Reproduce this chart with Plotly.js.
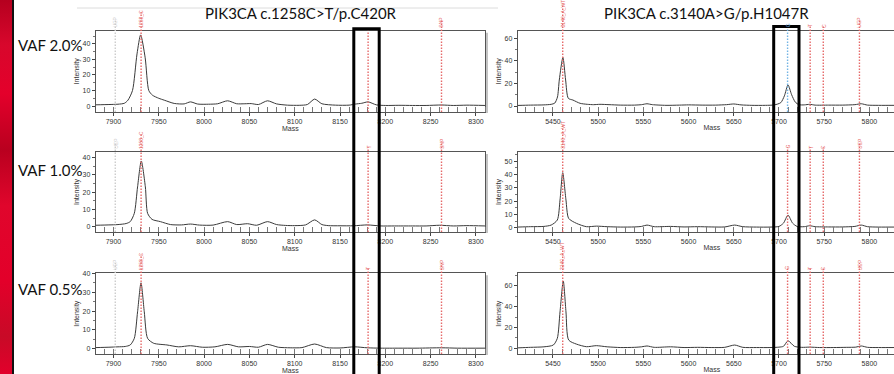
<!DOCTYPE html>
<html><head><meta charset="utf-8">
<script src="https://cdn.plot.ly/plotly-3.0.1.min.js"></script>
<style>
html,body{margin:0;padding:0;width:894px;height:374px;overflow:hidden;background:#fff;}
#chart{position:absolute;left:0;top:0;width:910px;height:374px;}
#strip{position:absolute;left:0;top:0;width:12px;height:374px;z-index:5;
background:linear-gradient(to bottom,#b5001f 0%,#d8072c 12%,#e4002b 25%,#b9001f 40%,#e0062c 55%,#e3002a 75%,#c80a27 90%,#e2002b 100%);}
#edge{position:absolute;left:12px;top:0;width:2px;height:374px;background:#111;z-index:5;}
</style></head><body>
<div id="chart"></div><div id="strip"></div><div id="edge"></div>
<script>
// ---------------- data ----------------
const titleLeft = "PIK3CA c.1258C>T/p.C420R";
const titleRight = "PIK3CA c.3140A>G/p.H1047R";
const vafLabels = ["VAF 2.0%", "VAF 1.0%", "VAF 0.5%"];

const xTicksL = [7900, 7950, 8000, 8050, 8100, 8150, 8200, 8250, 8300];
const xTicksR = [5450, 5500, 5550, 5600, 5650, 5700, 5750, 5800];
const yTicks1L = [0, 10, 20, 30, 40];
const yTicks1R = [0, 20, 40, 60];
const yTicks2L = [0, 10, 20, 30, 40];
const yTicks2R = [0, 10, 20, 30, 40, 50];
const yTicks3L = [0, 10, 20, 30, 40];
const yTicks3R = [0, 20, 40, 60];

const mass1L = [7880, 7895, 7905, 7912, 7916, 7921, 7926, 7930, 7935, 7939, 7943, 7950, 7956, 7967, 7978, 7985, 7993, 8005, 8015, 8026, 8036, 8045, 8052, 8060, 8070, 8080, 8092, 8105, 8114, 8122, 8130, 8145, 8160, 8167, 8174, 8181, 8190, 8200, 8215, 8230, 8245, 8262, 8275, 8290, 8310];
const int1L  = [0.8, 1.0, 1.2, 1.8, 3.8, 10, 33.5, 45.7, 31, 10, 7, 5, 3.8, 1.7, 1.4, 2.7, 1.3, 1.2, 1.5, 3.4, 1.5, 1.5, 1.6, 1.0, 3.4, 1.4, 0.6, 0.5, 1.0, 4.5, 1.5, 0.6, 0.6, 1.3, 1.8, 2.7, 0.8, 0.4, 0.5, 0.4, 0.4, 0.7, 0.4, 0.6, 0.4];

const mass1R = [5411, 5425, 5440, 5448, 5452, 5455, 5457, 5461, 5464, 5467, 5472, 5480, 5488, 5495, 5502, 5512, 5525, 5540, 5548, 5554, 5560, 5575, 5590, 5600, 5615, 5630, 5642, 5650, 5658, 5670, 5685, 5695, 5702, 5706, 5710, 5714, 5718, 5722, 5728, 5734, 5740, 5755, 5770, 5784, 5791, 5798, 5810, 5825, 5841];
const int1R  = [0.5, 0.8, 1.0, 1.5, 2.6, 8, 23, 43, 23, 6.8, 5.3, 2.4, 1.5, 1.2, 1.5, 1.2, 0.8, 0.8, 1.2, 2.0, 1.2, 0.6, 0.8, 1.0, 0.8, 0.8, 1.2, 1.8, 1.0, 0.6, 0.6, 1.0, 3.0, 9, 18.6, 10, 3.5, 1.2, 1.0, 1.5, 0.8, 0.8, 0.8, 1.2, 2.0, 0.8, 0.6, 0.6, 0.5];

const mass2L = [7880, 7895, 7905, 7914, 7918.5, 7923, 7926.6, 7930.7, 7935.2, 7937.7, 7942.6, 7951.8, 7963, 7975, 7985, 7995, 8010, 8026, 8036, 8048, 8058, 8070, 8080, 8090, 8100, 8112, 8122, 8130, 8137, 8150, 8165, 8180, 8195, 8210, 8230, 8245, 8260, 8275, 8290, 8310];
const int2L  = [0.8, 1.0, 1.2, 1.8, 2.9, 7.7, 23, 38, 23, 7.7, 4.2, 2.9, 1.2, 1.0, 1.5, 0.9, 0.9, 2.9, 1.2, 1.7, 0.8, 2.9, 1.2, 0.7, 0.6, 1.0, 3.9, 1.2, 0.6, 0.5, 0.5, 1.0, 0.4, 0.4, 0.4, 0.4, 0.8, 0.4, 0.6, 0.4];

const mass2R = [5411, 5425, 5440, 5448, 5454.8, 5457.8, 5460.8, 5464.4, 5467.4, 5476, 5487, 5498, 5510, 5525, 5540, 5548, 5554, 5562, 5580, 5595, 5610, 5625, 5640, 5651, 5660, 5675, 5690, 5700, 5705, 5710, 5715, 5720, 5728, 5734, 5740, 5755, 5770, 5784, 5791, 5798, 5810, 5825, 5841];
const int2R  = [0.5, 0.8, 1.0, 2.0, 5.8, 20.8, 41.4, 20.8, 7, 3.3, 0.8, 1.2, 0.8, 0.5, 0.6, 1.0, 2.0, 0.8, 1.0, 0.6, 0.8, 0.6, 0.6, 2.0, 0.8, 0.5, 0.5, 1.0, 3.5, 9.5, 3.5, 1.0, 0.8, 1.5, 0.8, 0.6, 0.6, 1.0, 2.0, 0.8, 0.5, 0.5, 0.5];

const mass3L = [7880, 7895, 7905, 7913, 7918.5, 7923, 7926.6, 7930.4, 7934, 7937.7, 7944.4, 7959, 7972, 7985, 7998, 8012, 8026, 8038, 8050, 8060, 8070, 8082, 8095, 8108, 8122, 8135, 8150, 8166, 8180, 8195, 8215, 8235, 8262, 8280, 8310];
const int3L  = [0.6, 0.8, 1.0, 1.2, 2, 5.5, 19.6, 35, 19.6, 5.5, 2.9, 2.0, 1.0, 1.6, 0.8, 1.0, 2.3, 1.0, 1.2, 0.8, 2.3, 0.8, 0.5, 0.6, 2.5, 0.6, 0.4, 1.0, 0.5, 0.3, 0.3, 0.3, 0.5, 0.3, 0.3];

const mass3R = [5411, 5425, 5440, 5450.4, 5454.8, 5457.8, 5461.4, 5464.4, 5467.4, 5476, 5487, 5498, 5510, 5525, 5540, 5548, 5554, 5562, 5580, 5595, 5610, 5625, 5640, 5651, 5660, 5675, 5690, 5700, 5705, 5710, 5717, 5725, 5734, 5745, 5760, 5775, 5785, 5791, 5798, 5810, 5825, 5841];
const int3R  = [0.5, 1.0, 1.5, 3.2, 9.6, 35, 64.7, 35, 8, 4.1, 1.6, 2.6, 1.5, 0.8, 1.0, 1.5, 2.3, 1.0, 1.5, 0.8, 1.0, 0.8, 1.0, 3.2, 1.0, 0.8, 0.8, 1.2, 2, 7.3, 2, 1.0, 1.2, 0.8, 0.8, 1.0, 1.2, 2.3, 1.0, 0.8, 0.8, 0.8];

// expected analyte masses (dotted markers) and their tiny labels
const markerMassL = [7902, 7930.5, 8181, 8262];
const markerTextL = ["UEP", "1258_C", "T", "SNP"];
const markerMassR = [5460.8, 5709.5, 5734.5, 5749, 5789];
const markerTextR = ["3140_A_WT", "G", "T", "C", "UEP"];

// ---------------- layout helpers ----------------
const W = 910, H = 374;
const fx = px => px / W;
const fy = py => 1 - py / H;

const panels = [
  {box:[95.7, 485, 30.7, 112], xr:[7880.4, 8310], yr:[-3.8, 48.4], xt:xTicksL, yt:yTicks1L, ym:5, m:mass1L, v:int1L, side:'L', row:0},
  {box:[517.7, 906, 30.7, 112], xr:[5411, 5840.5], yr:[-5.3, 66.7], xt:xTicksR, yt:yTicks1R, ym:10, m:mass1R, v:int1R, side:'R', row:0},
  {box:[95.7, 485, 152, 232], xr:[7880.4, 8310], yr:[-3.1, 43.2], xt:xTicksL, yt:yTicks2L, ym:5, m:mass2L, v:int2L, side:'L', row:1},
  {box:[517.7, 906, 152, 232], xr:[5411, 5840.5], yr:[-3.2, 56.9], xt:xTicksR, yt:yTicks2R, ym:5, m:mass2R, v:int2R, side:'R', row:1},
  {box:[95.7, 485, 273.3, 354], xr:[7880.4, 8310], yr:[-2.8, 40.05], xt:xTicksL, yt:yTicks3L, ym:5, m:mass3L, v:int3L, side:'L', row:2},
  {box:[517.7, 906, 273.3, 354], xr:[5411, 5840.5], yr:[-5.4, 72.1], xt:xTicksR, yt:yTicks3R, ym:10, m:mass3R, v:int3R, side:'R', row:2}
];

const tickFont = {family:'Liberation Sans, Arial, sans-serif', size:7, color:'#333'};
const RED = '#e66a6a', GRAY = '#cccccc', BLUE = '#72b4e4';

const layout = {
  width: W, height: H, margin:{l:0, r:0, t:0, b:0},
  paper_bgcolor:'#fff', plot_bgcolor:'#fff', showlegend:false,
  shapes: [], annotations: []
};
const traces = [];

panels.forEach((p, i) => {
  const s = i === 0 ? '' : String(i + 1);
  const [x0, x1, y0, y1] = p.box;
  layout['xaxis' + s] = {
    domain:[fx(x0), fx(x1)], range:p.xr, anchor:'y' + s,
    tickmode:'array', tickvals:p.xt, ticks:'outside', ticklen:3, tickcolor:'#444',
    minor:{tick0:0, dtick:10, ticks:'inside', ticklen:5, tickcolor:'#777', showgrid:false},
    tickfont:tickFont, showline:true, linecolor:'#555', linewidth:1, mirror:true,
    showgrid:false, zeroline:false,
    title:{text:'Mass', font:{family:'Liberation Sans, Arial, sans-serif', size:7, color:'#333'}, standoff:0}
  };
  layout['yaxis' + s] = {
    domain:[fy(y1), fy(y0)], range:p.yr, anchor:'x' + s,
    tickmode:'array', tickvals:p.yt, ticks:'outside', ticklen:3, tickcolor:'#444',
    minor:{tick0:0, dtick:p.ym, ticks:'outside', ticklen:2, tickcolor:'#777', showgrid:false},
    tickfont:tickFont, showline:true, linecolor:'#555', linewidth:1, mirror:true,
    showgrid:false, zeroline:false,
    title:{text:'Intensity', font:{family:'Liberation Sans, Arial, sans-serif', size:7, color:'#333'}, standoff:2}
  };
  traces.push({
    type:'scatter', mode:'lines', x:p.m, y:p.v, xaxis:'x' + s, yaxis:'y' + s,
    line:{color:'#3a3a3a', width:1, shape:'spline', smoothing:0.7}, hoverinfo:'skip'
  });

  const domH = y1 - y0;
  const masses = p.side === 'L' ? markerMassL : markerMassR;
  const texts = p.side === 'L' ? markerTextL : markerTextR;
  masses.forEach((mz, k) => {
    let col = RED;
    if (p.side === 'L' && k === 0) col = GRAY;
    if (p.side === 'R' && k === 1 && p.row === 0) col = BLUE;
    const showLabel = !(p.side === 'L' && k === 2 && p.row === 0);
    const labelLen = showLabel ? texts[k].length * 2.8 + 2 : 0;
    layout.shapes.push({
      type:'line', xref:'x' + s, yref:'y' + s + ' domain',
      x0:mz, x1:mz, y0:0, y1:1 + labelLen / domH,
      line:{color:col, width:1.4, dash:'1.5px,1.5px'}
    });
    if (showLabel) {
      layout.annotations.push({
        xref:'x' + s, yref:'y' + s + ' domain', x:mz, y:1, yshift:1,
        xanchor:'center', yanchor:'bottom', textangle:-90, showarrow:false,
        text:texts[k], font:{family:'Liberation Sans, Arial, sans-serif', size:5, color:col}
      });
    }
  });

  if (p.side === 'L') {
    layout.shapes.push({type:'line', xref:'paper', yref:'paper',
      x0:fx(x1 + 2), x1:fx(x1 + 2), y0:fy(y1 + 1), y1:fy(y0 + 2),
      line:{color:'#c4c4c4', width:2}});
  }
});

// faint separator line at the very top
layout.shapes.push({type:'line', xref:'paper', yref:'paper', x0:fx(77), x1:fx(498), y0:fy(8), y1:fy(8),
  line:{color:'#dcdcdc', width:1}});

// highlight boxes
layout.shapes.push({type:'rect', xref:'paper', yref:'paper', x0:fx(353.8), x1:fx(379.2), y0:fy(390), y1:fy(28.7),
  line:{color:'#000', width:3}, fillcolor:'rgba(0,0,0,0)'});
layout.shapes.push({type:'rect', xref:'paper', yref:'paper', x0:fx(773.7), x1:fx(799), y0:fy(390), y1:fy(26.5),
  line:{color:'#000', width:3}, fillcolor:'rgba(0,0,0,0)'});

// titles
const bigFont = {family:'Lato, Carlito, Calibri, sans-serif', size:15, color:'#111'};
layout.annotations.push({xref:'paper', yref:'paper', x:fx(300.5), y:fy(12.5), xanchor:'center', yanchor:'middle',
  showarrow:false, text:titleLeft, font:bigFont});
layout.annotations.push({xref:'paper', yref:'paper', x:fx(706), y:fy(12.5), xanchor:'center', yanchor:'middle',
  showarrow:false, text:titleRight, font:bigFont});
const vafY = [45, 170, 288.5];
vafLabels.forEach((t, i) => {
  layout.annotations.push({xref:'paper', yref:'paper', x:fx(15.5), y:fy(vafY[i]), xanchor:'left', yanchor:'middle',
    showarrow:false, text:t, font:bigFont});
});

Plotly.newPlot('chart', traces, layout, {staticPlot:true, displayModeBar:false});
</script>
</body></html>
